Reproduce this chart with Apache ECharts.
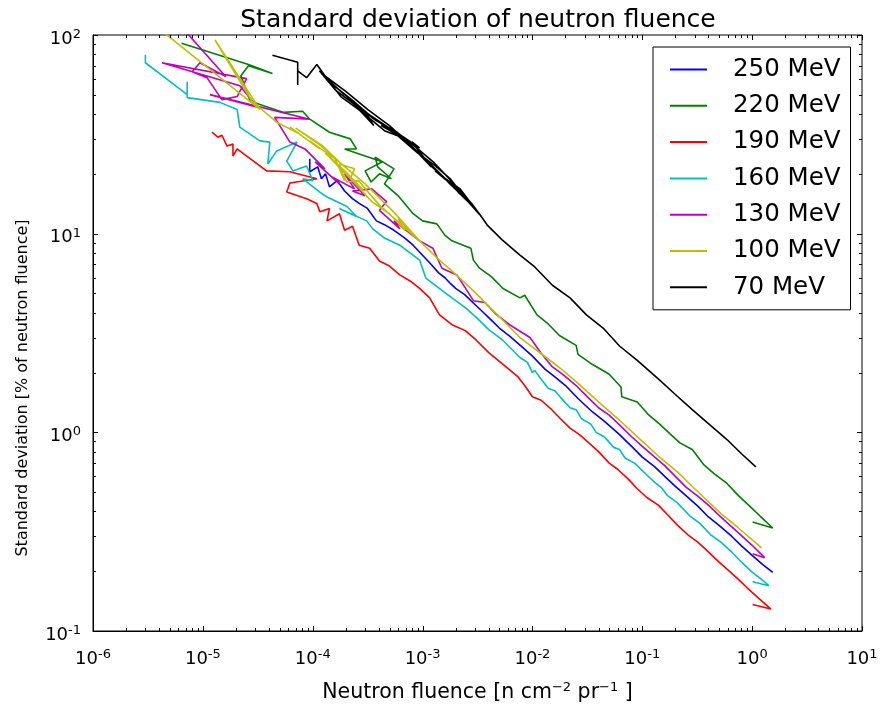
<!DOCTYPE html>
<html>
<head>
<meta charset="utf-8">
<script src="https://cdn.jsdelivr.net/npm/echarts@6/dist/echarts.min.js"></script>
<style>
  html, body { margin: 0; padding: 0; background: #fff; }
  #chart { width: 886px; height: 710px; }
</style>
</head>
<body>
<div id="chart"></div>
<script>
// legend order = plot order
const energies = ['250 MeV', '220 MeV', '190 MeV', '160 MeV', '130 MeV', '100 MeV', '70 MeV'];
const colors = ['#0000ff', '#008000', '#ff0000', '#00bfbf', '#bf00bf', '#bfbf00', '#000000'];

// decades used for tick labels
const xDecades = [-6, -5, -4, -3, -2, -1, 0, 1];
const yDecades = [-1, 0, 1, 2];

// [neutron fluence, standard deviation %]
const sd250 = [[9.4e-5,23.8],[9.4e-5,20.5],[1.11e-4,21.7],[1.2e-4,18.9],[1.31e-4,20],[1.42e-4,17.2],[1.67e-4,18.5],[1.95e-4,16.4],[2.3e-4,15],[2.65e-4,14.2],[3.15e-4,13.4],[3.8e-4,11.6],[4.5e-4,11.1],[5.5e-4,10.4],[6.9e-4,9.5],[8.2e-4,8.75],[1.2e-3,7.0],[1.4e-3,6.35],[1.6e-3,6.0],[1.8e-3,5.6],[2e-3,5.3],[2.4e-3,4.95],[3e-3,4.4],[3.6e-3,4.0],[4.2e-3,3.68],[5e-3,3.35],[6.2e-3,3.05],[8e-3,2.7],[1e-2,2.42],[1.3e-2,2.08],[1.6e-2,1.9],[2e-2,1.72],[2.6e-2,1.48],[3.5e-2,1.27],[4.5e-2,1.14],[6e-2,0.99],[8e-2,0.85],[0.1,0.75],[0.13,0.67],[0.16,0.6],[0.2,0.535],[0.25,0.48],[0.32,0.425],[0.4,0.375],[0.5,0.34],[0.65,0.3],[0.8,0.268],[1.0,0.24],[1.25,0.216],[1.54,0.197]];

const sd220 = [[6.4e-6,91],[2.6e-5,71],[4.3e-5,64],[2.6e-5,70],[2.22e-5,62.4],[2.7e-5,46.4],[5.36e-5,40.8],[8.1e-5,41.3],[9.4e-5,37.7],[1.42e-4,32.4],[2.2e-4,30],[2.5e-4,26.7],[1.95e-4,26.7],[2.65e-4,25.2],[4.3e-4,23],[3e-4,20.7],[3.4e-4,18.2],[4.05e-4,20],[5.2e-4,18.9],[3.9e-4,21.7],[3.7e-4,24.3],[5.5e-4,21.2],[4.5e-4,17.8],[6e-4,15.5],[8.2e-4,12.6],[1e-3,11.6],[1.35e-3,11.2],[1.6e-3,9.8],[1.85e-3,9.2],[2.75e-3,8.45],[2.9e-3,7.36],[3.3e-3,6.7],[4.2e-3,6.1],[5.4e-3,5.3],[7.7e-3,4.75],[8.5e-3,4.9],[1.1e-2,3.9],[1.4e-2,3.5],[1.76e-2,3.07],[2.5e-2,2.74],[2.6e-2,2.47],[3.5e-2,2.2],[5e-2,1.96],[6.4e-2,1.69],[6.5e-2,1.51],[9e-2,1.42],[0.115,1.22],[0.144,1.1],[0.18,0.98],[0.22,0.885],[0.285,0.82],[0.36,0.69],[0.45,0.62],[0.59,0.553],[0.75,0.48],[0.95,0.425],[1.18,0.379],[1.54,0.33],[1.01,0.354]];

const sd190 = [[1.21e-5,32.4],[1.37e-5,30.6],[1.49e-5,31.3],[1.66e-5,27.6],[1.88e-5,28.3],[1.88e-5,24.6],[2.05e-5,26.7],[3.8e-5,20.7],[6.2e-5,20.5],[1.09e-4,18.9],[6.2e-5,18],[5.8e-5,16.2],[8.8e-5,15],[1.09e-4,14.2],[1.16e-4,12.9],[1.42e-4,13.4],[1.35e-4,11.6],[1.75e-4,12.6],[1.95e-4,10.4],[2.3e-4,10.9],[2.65e-4,8.75],[3.3e-4,8.45],[4.05e-4,7.28],[5e-4,6.87],[6.2e-4,6.2],[7.7e-4,5.78],[9.4e-4,5.3],[1.16e-3,4.75],[1.42e-3,3.91],[1.85e-3,3.48],[2.45e-3,3.25],[3.1e-3,2.9],[4e-3,2.52],[5.4e-3,2.2],[7.4e-3,1.9],[8.5e-3,1.72],[1e-2,1.51],[1.2e-2,1.45],[1.5e-2,1.3],[1.8e-2,1.17],[2.2e-2,1.05],[2.7e-2,0.97],[3.3e-2,0.88],[4e-2,0.8],[5e-2,0.7],[6e-2,0.65],[7.5e-2,0.58],[9e-2,0.52],[0.11,0.47],[0.14,0.43],[0.17,0.385],[0.21,0.34],[0.26,0.305],[0.32,0.28],[0.4,0.25],[0.5,0.222],[0.62,0.2],[0.75,0.182],[0.9,0.165],[1.15,0.146],[1.48,0.129],[1.01,0.136]];

const sd160 = [[3e-6,79.5],[3e-6,72.5],[7.2e-6,50.1],[7.2e-6,58.2],[7.2e-6,48.4],[1.43e-5,45.8],[2.05e-5,42.2],[2.17e-5,34.4],[3.3e-5,29.3],[4.07e-5,28.9],[3.9e-5,22.4],[4.7e-5,26.1],[7.2e-5,28.9],[5.8e-5,23.2],[6.6e-5,20.7],[8.8e-5,21.9],[1e-4,18.5],[8.1e-5,18.9],[1.16e-4,16.2],[1.35e-4,15.3],[2.05e-4,13.7],[2.5e-4,12.2],[1.75e-4,13.4],[3.1e-4,11.6],[3.5e-4,10.6],[4.5e-4,9.5],[6.2e-4,8.75],[9.4e-4,7.36],[1.07e-3,5.98],[1.42e-3,5.3],[1.85e-3,4.75],[2.45e-3,4.24],[3.1e-3,3.78],[4e-3,3.29],[5.4e-3,2.9],[7.7e-3,2.38],[9e-3,2.25],[1.0e-2,2.0],[1.05e-2,2.05],[1.2e-2,1.85],[1.4e-2,1.66],[1.6e-2,1.62],[1.8e-2,1.5],[2.2e-2,1.33],[2.5e-2,1.3],[2.8e-2,1.17],[3.4e-2,1.1],[3.8e-2,1.0],[4.5e-2,0.95],[5.5e-2,0.84],[6.2e-2,0.82],[7e-2,0.74],[8.5e-2,0.7],[0.11,0.61],[0.13,0.56],[0.15,0.525],[0.17,0.48],[0.21,0.44],[0.27,0.38],[0.33,0.35],[0.42,0.305],[0.52,0.28],[0.65,0.25],[0.8,0.222],[1.0,0.198],[1.2,0.183],[1.42,0.169],[1.01,0.177]];

const sd130 = [[7.2e-6,102],[1.62e-5,61.7],[9.4e-6,72.5],[8e-6,65.3],[1.09e-5,61],[1.49e-5,47.3],[2.05e-5,49],[2.5e-5,60.3],[4.25e-6,72.5],[2.17e-5,55.6],[3.15e-5,43.3],[1.16e-5,50.1],[9.4e-5,37.7],[4.5e-5,38.5],[6.2e-5,28.9],[8.5e-5,26.7],[1.29e-4,21.2],[1.05e-4,23],[1.75e-4,17.8],[1.5e-4,19.3],[2.4e-4,16.8],[1.95e-4,20],[3e-4,15.5],[2.3e-4,16.4],[3.45e-4,16.8],[4.7e-4,14.5],[4.05e-4,13.1],[6.2e-4,10.6],[5.5e-4,11.6],[9.4e-4,9.2],[1.24e-3,8.45],[1.5e-3,6.7],[2.05e-3,6.2],[2.35e-3,5.52],[2.9e-3,4.6],[3.7e-3,4.5],[4.7e-3,3.91],[6.2e-3,3.48],[9.5e-3,3.0],[1.2e-2,2.5],[1.5e-2,2.15],[1.9e-2,1.95],[2.5e-2,1.72],[3.2e-2,1.5],[4e-2,1.33],[5e-2,1.22],[6e-2,1.11],[8e-2,0.95],[0.1,0.85],[0.13,0.75],[0.16,0.68],[0.2,0.6],[0.25,0.53],[0.32,0.478],[0.4,0.43],[0.5,0.382],[0.63,0.34],[0.8,0.302],[1.0,0.27],[1.3,0.234],[1.01,0.245]];

const sd100 = [[4.5e-6,102],[3.3e-5,42.2],[1.29e-5,94.4],[2.8e-5,46.4],[4.7e-5,36.4],[7.65e-5,31.7],[6.2e-5,34.4],[1.16e-4,26.7],[9.4e-5,29.3],[1.6e-4,23.8],[1.95e-4,18.5],[1.75e-4,22.4],[2.4e-4,21.2],[2.2e-4,18.9],[1.3e-4,25.5],[2.0e-4,20.5],[2.9e-4,16.5],[2.1e-4,19.5],[3.45e-4,14.5],[5e-4,12.6],[6.9e-4,10.4],[6e-4,11.9],[9.4e-4,9.2],[5.5e-4,12.8],[3e-4,17.8],[1.8e-4,22.6],[1.2e-4,28],[7e-5,34],[1.1e-4,28.6],[1.55e-4,24.5],[2.05e-4,18.2],[2.6e-4,18.5],[4e-4,14],[6.5e-4,11],[1e-3,8.9],[1.42e-3,7.36],[1.85e-3,6.5],[2.75e-3,5.3],[3.9e-3,4.38],[7.7e-3,3.0],[1.76e-2,2.12],[2.5e-2,1.8],[4.07e-2,1.41],[6e-2,1.17],[9.4e-2,0.93],[0.14,0.76],[0.21,0.63],[0.3,0.52],[0.52,0.39],[0.75,0.33],[1.22,0.262]];

const sd70 = [[4.3e-5,79],[7.3e-5,73],[7.3e-5,56],[7.3e-5,66],[8.8e-5,61],[1.09e-4,71],[1.42e-4,58],[1.2e-4,64],[1.95e-4,50],[1.75e-4,53],[2.65e-4,43],[2.2e-4,47],[3.6e-4,35],[3e-4,41],[5e-4,34],[4.2e-4,35],[6.8e-4,30],[5.5e-4,33],[9.4e-4,27],[8e-4,29],[1.05e-3,23.8],[1.2e-3,21.7],[9.4e-4,25],[1.42e-3,20],[1.3e-3,20.7],[1.95e-3,17.2],[1.7e-3,18.2],[2.45e-3,15],[2.1e-3,16.2],[3e-3,13.4],[2.2e-3,16.8],[1.5e-3,19.5],[1.1e-3,23],[7.5e-4,28.5],[5e-4,35],[3.2e-4,42],[2e-4,52],[1.3e-4,62],[1.8e-4,49],[2.8e-4,41],[4.5e-4,33],[6e-4,31],[9e-4,25.5],[1.3e-3,22],[1.8e-3,18.8],[2.6e-3,14.5],[3.3e-3,12.5],[2.4e-3,15.6],[1.6e-3,19],[1.0e-3,24.5],[7e-4,29.5],[4.8e-4,34],[3.4e-4,39],[2.4e-4,46],[1.6e-4,55],[1.15e-4,66],[1.6e-4,53],[2.5e-4,44],[3.8e-4,37],[5.8e-4,32.5],[8.5e-4,27.5],[1.25e-3,23],[1.9e-3,18],[2.8e-3,14.2],[3.5e-3,12],[3.9e-3,11.0],[5.3e-3,9.3],[7.7e-3,7.8],[1.05e-2,6.8],[1.52e-2,5.5],[2.2e-2,4.75],[3.1e-2,3.9],[4.4e-2,3.35],[6.2e-2,2.72],[9e-2,2.3],[0.144,1.83],[0.2,1.55],[0.285,1.3],[0.42,1.08],[0.59,0.92],[0.8,0.78],[1.08,0.67]];

const allSeries = [sd250, sd220, sd190, sd160, sd130, sd100, sd70];

const FONT = 'DejaVu Sans';
const supRich = { s: { fontSize: 13, fontFamily: FONT, color: '#000', verticalAlign: 'top', lineHeight: 12 } };

const chart = echarts.init(document.getElementById('chart'));

chart.setOption({
  animation: false,
  backgroundColor: '#fff',
  title: {
    text: 'Standard deviation of neutron fluence',
    left: 473, top: 3, textAlign: 'center',
    textStyle: { fontFamily: FONT, fontSize: 25, fontWeight: 'normal', color: '#000' }
  },
  grid: { left: 93, right: 24, top: 35, bottom: 74, show: true, borderColor: '#000', borderWidth: 1 },
  legend: {
    orient: 'vertical',
    left: 653, top: 47,
    padding: [10, 10, 10, 17],
    icon: 'rect',
    itemWidth: 37, itemHeight: 2, itemGap: 11.3,
    backgroundColor: '#fff', borderColor: '#000', borderWidth: 1,
    textStyle: { fontFamily: FONT, fontSize: 24.5, color: '#000', lineHeight: 24, padding: [0, 0, 0, 21] },
    data: energies
  },
  xAxis: {
    type: 'log', logBase: 10, min: 1e-6, max: 10, splitNumber: 7,
    axisLine: { show: true, onZero: false, lineStyle: { color: '#000' } },
    axisTick: { show: false },
    splitLine: { show: false },
    axisLabel: {
      fontFamily: FONT, fontSize: 18, color: '#000', margin: 17, lineHeight: 22,
      formatter: v => '10{s|' + Math.round(Math.log10(v)) + '}',
      rich: supRich
    },
    name: 'Neutron fluence [n cm{s|−2} pr{s|−1} ]',
    nameLocation: 'middle', nameGap: 50,
    nameTextStyle: { fontFamily: FONT, fontSize: 20.5, color: '#000', lineHeight: 24, rich: supRich }
  },
  yAxis: {
    type: 'log', logBase: 10, min: 0.1, max: 100, splitNumber: 3,
    axisLine: { show: true, onZero: false, lineStyle: { color: '#000' } },
    axisTick: { show: false },
    splitLine: { show: false },
    axisLabel: {
      fontFamily: FONT, fontSize: 18, color: '#000', margin: 12, lineHeight: 22,
      padding: [8, 0, 0, 0],
      formatter: v => '10{s|' + Math.round(Math.log10(v)) + '}',
      rich: supRich
    },
    name: 'Standard deviation [% of neutron fluence]',
    nameLocation: 'middle', nameGap: 62,
    nameTextStyle: { fontFamily: FONT, fontSize: 16, color: '#000', padding: [0, 110, 0, 0] }
  },
  series: energies.map((name, i) => ({
    name: name,
    type: 'line',
    data: allSeries[i],
    symbol: 'none',
    clip: true,
    z: 2 + i,
    lineStyle: { color: colors[i], width: 1.6 },
    itemStyle: { color: colors[i] }
  }))
});

// inward major and minor ticks on all four sides (matplotlib style)
function drawTicks() {
  const els = [];
  const xl = chart.convertToPixel({ xAxisIndex: 0 }, 1e-6);
  const xr = chart.convertToPixel({ xAxisIndex: 0 }, 10);
  const yb = chart.convertToPixel({ yAxisIndex: 0 }, 0.1);
  const yt = chart.convertToPixel({ yAxisIndex: 0 }, 100);
  const line = (x1, y1, x2, y2) => els.push({
    type: 'line', silent: true, z: 50,
    shape: { x1: x1, y1: y1, x2: x2, y2: y2 },
    style: { stroke: '#000', lineWidth: 1 }
  });
  xDecades.forEach(d => {
    for (let m = 1; m <= 9; m++) {
      const v = m * Math.pow(10, d);
      if (v > 10.0001) break;
      const px = Math.round(chart.convertToPixel({ xAxisIndex: 0 }, v)) + 0.5;
      const len = m === 1 ? 5 : 3;
      line(px, yb, px, yb - len);
      line(px, yt, px, yt + len);
    }
  });
  yDecades.forEach(d => {
    for (let m = 1; m <= 9; m++) {
      const v = m * Math.pow(10, d);
      if (v > 100.0001) break;
      const py = Math.round(chart.convertToPixel({ yAxisIndex: 0 }, v)) + 0.5;
      const len = m === 1 ? 5 : 3;
      line(xl, py, xl + len, py);
      line(xr, py, xr - len, py);
    }
  });
  chart.setOption({ graphic: els });
}
drawTicks();
</script>
</body>
</html>
